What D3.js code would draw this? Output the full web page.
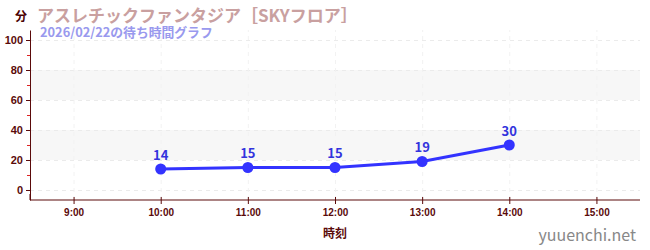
<!DOCTYPE html>
<html>
<head>
<meta charset="utf-8">
<script src="https://cdn.jsdelivr.net/npm/d3@7"></script>
<style>
  body { margin: 0; background: #fff; }
  svg { display: block; font-family: "Noto Sans CJK JP", "Noto Sans", sans-serif; }
</style>
</head>
<body>
<div id="chart"></div>
<script>
const hours = [9, 10, 11, 12, 13, 14, 15];
const times = [10, 11, 12, 13, 14];
const waits = [14, 15, 15, 19, 30];
const yTicks = [0, 20, 40, 60, 80, 100];
const yMinor = [10, 30, 50, 70, 90];
const bands = [[20, 40], [60, 80]];

const w = 650, h = 250;
const svg = d3.select("#chart").append("svg")
  .attr("width", w)
  .attr("height", h);

const x = d3.scaleLinear().domain([8.5, 15.5]).range([30, 640]);
const y = d3.scaleLinear().domain([-6.67, 106.67]).range([200, 30]);
const axisColor = "#5a0a0a";

// bands
svg.append("g").selectAll("rect")
  .data(bands)
  .join("rect")
  .attr("x", 30)
  .attr("width", 610)
  .attr("y", d => y(d[1]))
  .attr("height", d => y(d[0]) - y(d[1]))
  .attr("fill", "#f7f7f7");

// grid
svg.append("g")
  .attr("transform", "translate(30,0)")
  .call(d3.axisLeft(y).tickValues(yTicks).tickSize(-610).tickFormat(""))
  .call(g => g.select(".domain").remove())
  .call(g => g.selectAll(".tick line")
    .attr("stroke", "#ebebeb")
    .attr("stroke-dasharray", "4,4"));

svg.append("g")
  .attr("transform", "translate(0,200)")
  .call(d3.axisBottom(x).tickValues(hours).tickSize(-170).tickFormat(""))
  .call(g => g.select(".domain").remove())
  .call(g => g.selectAll(".tick line")
    .attr("stroke", "#f2f2f2")
    .attr("stroke-dasharray", "4,4"));

// y axis
svg.append("g")
  .attr("transform", "translate(30,0)")
  .call(d3.axisLeft(y).tickValues(yTicks).tickSize(4).tickSizeOuter(0))
  .call(g => g.select(".domain").attr("stroke", axisColor))
  .call(g => g.selectAll(".tick line").attr("stroke", axisColor))
  .call(g => g.selectAll("text")
    .attr("fill", axisColor)
    .style("font-size", "11px")
    .style("font-weight", "700"));

svg.append("g")
  .attr("transform", "translate(30,0)")
  .call(d3.axisLeft(y).tickValues(yMinor).tickSize(3).tickFormat(""))
  .call(g => g.select(".domain").remove())
  .call(g => g.selectAll(".tick line").attr("stroke", "#dd2222"));

// x axis
svg.append("g")
  .attr("transform", "translate(0,200)")
  .call(d3.axisBottom(x).tickValues(hours).tickSize(4).tickSizeOuter(0)
    .tickFormat(d => `${d}:00`))
  .call(g => g.select(".domain").attr("stroke", axisColor).attr("d", "M30,-6V0H640"))
  .call(g => g.selectAll(".tick line").attr("stroke", axisColor).attr("y1", -3))
  .call(g => g.selectAll("text")
    .attr("fill", axisColor)
    .attr("dy", "0.9em")
    .style("font-size", "10px")
    .style("font-weight", "700"));

// line
const pts = times.map((t, i) => ({ t, v: waits[i] }));
const line = d3.line().x(d => x(d.t)).y(d => y(d.v));

svg.append("path")
  .datum(pts)
  .attr("fill", "none")
  .attr("stroke", "#3333ff")
  .attr("stroke-width", 3)
  .attr("d", line);

svg.append("g").selectAll("circle")
  .data(pts)
  .join("circle")
  .attr("cx", d => x(d.t))
  .attr("cy", d => y(d.v))
  .attr("r", 5.5)
  .attr("fill", "#3333ff");

svg.append("g").selectAll("text")
  .data(pts)
  .join("text")
  .attr("x", d => x(d.t))
  .attr("y", d => y(d.v) - 9)
  .attr("text-anchor", "middle")
  .attr("fill", "#3333dd")
  .style("font-size", "13px")
  .style("font-weight", "700")
  .text(d => d.v);

// titles
svg.append("text")
  .attr("x", 15).attr("y", 21)
  .attr("fill", "#4a0000")
  .style("font-size", "12px")
  .style("font-weight", "700")
  .text("分");

svg.append("text")
  .attr("x", 37).attr("y", 22)
  .attr("fill", "#c9a0a0")
  .style("font-size", "17px")
  .style("font-weight", "700")
  .text("アスレチックファンタジア［SKYフロア］");

svg.append("text")
  .attr("x", 40).attr("y", 37)
  .attr("fill", "#9999ee")
  .style("font-size", "12.8px")
  .style("font-weight", "700")
  .text("2026/02/22の待ち時間グラフ");

svg.append("text")
  .attr("x", 335).attr("y", 238)
  .attr("text-anchor", "middle")
  .attr("fill", axisColor)
  .style("font-size", "12px")
  .style("font-weight", "700")
  .text("時刻");

svg.append("text")
  .attr("x", 636).attr("y", 241)
  .attr("text-anchor", "end")
  .attr("fill", "#888888")
  .style("font-size", "16px")
  .text("yuuenchi.net");
</script>
</body>
</html>
